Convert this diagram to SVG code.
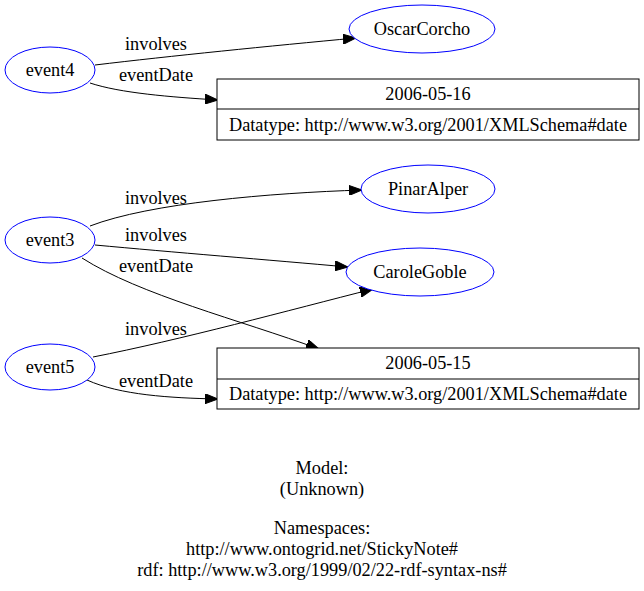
<svg xmlns="http://www.w3.org/2000/svg" width="644" height="591" viewBox="0 0 644 591">
<defs>
<marker id="arr" markerWidth="13" markerHeight="10" refX="13" refY="5" orient="auto" markerUnits="userSpaceOnUse">
<path d="M0,0 L13,5 L0,10 Z" fill="#000" stroke="#000"/>
</marker>
<style>
text{font-family:"Liberation Serif","Times New Roman",serif;font-size:18.3px;fill:#000;text-anchor:middle}
.n{fill:#fff;stroke:#0000ff;stroke-width:1}
.b{fill:#fff;stroke:#000;stroke-width:1}
.e{fill:none;stroke:#000;stroke-width:1;marker-end:url(#arr)}
</style>
</defs>
<rect width="644" height="591" fill="#fff"/>
<g id="connectors">
<path class="e" d="M95,65 C170,56 270,46 356,38"/>
<text x="156" y="50">involves</text>
<path class="e" d="M90,83 C120,93 170,97 218,100"/>
<text x="156" y="81">eventDate</text>
<path class="e" d="M90,226 C150,203 270,193 362,190"/>
<text x="156" y="204">involves</text>
<path class="e" d="M95,245 C170,252 270,260 348,267"/>
<text x="156" y="241">involves</text>
<path class="e" d="M82,258 C140,295 240,320 319,349"/>
<text x="156" y="272">eventDate</text>
<path class="e" d="M93,357 C180,340 290,310 373,289"/>
<text x="156" y="335">involves</text>
<path class="e" d="M87,380 C120,395 170,398 218,399"/>
<text x="156" y="387">eventDate</text>
</g>
<g id="event4">
<ellipse class="n" cx="50" cy="70" rx="45" ry="23"/>
<text x="50" y="76">event4</text>
</g>
<g id="OscarCorcho">
<ellipse class="n" cx="422" cy="29" rx="73" ry="24"/>
<text x="422" y="35">OscarCorcho</text>
</g>
<g id="date1">
<rect class="b" x="217" y="79" width="422" height="61"/>
<line x1="217" y1="109" x2="639" y2="109" stroke="#000"/>
<text x="428" y="100">2006-05-16</text>
<text x="428" y="131">Datatype: http://www.w3.org/2001/XMLSchema#date</text>
</g>
<g id="event3">
<ellipse class="n" cx="50" cy="240" rx="45" ry="23"/>
<text x="50" y="246">event3</text>
</g>
<g id="PinarAlper">
<ellipse class="n" cx="428" cy="189" rx="67" ry="24"/>
<text x="428" y="195">PinarAlper</text>
</g>
<g id="CaroleGoble">
<ellipse class="n" cx="420" cy="272" rx="74" ry="24"/>
<text x="420" y="278">CaroleGoble</text>
</g>
<g id="event5">
<ellipse class="n" cx="50" cy="367" rx="45" ry="23"/>
<text x="50" y="373">event5</text>
</g>
<g id="date2">
<rect class="b" x="217" y="348" width="422" height="61"/>
<line x1="217" y1="379" x2="639" y2="379" stroke="#000"/>
<text x="428" y="369">2006-05-15</text>
<text x="428" y="400">Datatype: http://www.w3.org/2001/XMLSchema#date</text>
</g>
<g id="footer">
<text x="322" y="474">Model:</text>
<text x="322" y="495">(Unknown)</text>
<text x="322" y="534">Namespaces:</text>
<text x="322" y="555">http://www.ontogrid.net/StickyNote#</text>
<text x="322" y="576">rdf: http://www.w3.org/1999/02/22-rdf-syntax-ns#</text>
</g>
</svg>
